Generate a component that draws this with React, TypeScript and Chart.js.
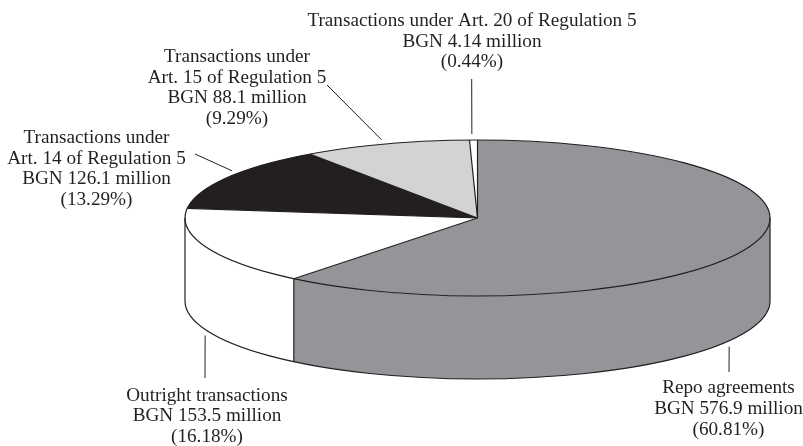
import React, { useEffect, useRef } from 'react';
import { Chart, registerables } from 'chart.js';

Chart.register(...registerables);

// ---- data ----
const CATEGORIES = [
  'Repo agreements',
  'Outright transactions',
  'Transactions under Art. 14 of Regulation 5',
  'Transactions under Art. 15 of Regulation 5',
  'Transactions under Art. 20 of Regulation 5',
];
const VALUES = [576.9, 153.5, 126.1, 88.1, 4.14]; // BGN million
const NAME_LINES = [
  ['Repo agreements'],
  ['Outright transactions'],
  ['Transactions under', 'Art. 14 of Regulation 5'],
  ['Transactions under', 'Art. 15 of Regulation 5'],
  ['Transactions under Art. 20 of Regulation 5'],
];
const COLORS = ['#939598', '#ffffff', '#231f20', '#d1d3d4', '#ffffff'];

// ---- layout (not data) ----
const W = 803;
const H = 446;
const RADIUS = 292.5;
const TILT = 78 / 292.5;
const DEPTH = 83;
const INK = '#231f20';
const FONT = '19.2px "Liberation Serif", "Times New Roman", serif';
const LINE_H = 20.6;
const LABEL_LAYOUT = [
  { x: 728.5, y: 393.3, frac: 0.551, end: [729, 372] },
  { x: 207, y: 400.7, frac: 0.51, end: [205, 378] },
  { x: 96.5, y: 143, frac: 0.58, end: [195, 154] },
  { x: 237, y: 62, frac: 0.5, end: [327, 85] },
  { x: 472, y: 26, frac: 0.3, end: [471.7, 79] },
];

const pie3d = {
  id: 'pie3d',
  beforeDatasetsDraw(chart: any) {
    const ctx = chart.ctx as CanvasRenderingContext2D;
    const arcs = chart.getDatasetMeta(0).data as any[];
    const cx = arcs[0].x, cy = arcs[0].y, rx = arcs[0].outerRadius, ry = rx * TILT;
    ctx.save();
    arcs.forEach((arc, i) => {
      const a = Math.max(arc.startAngle, 0);
      const b = Math.min(arc.endAngle, Math.PI);
      if (b <= a) return;
      ctx.beginPath();
      ctx.ellipse(cx, cy, rx, ry, 0, a, b, false);
      ctx.ellipse(cx, cy + DEPTH, rx, ry, 0, b, a, true);
      ctx.closePath();
      ctx.fillStyle = COLORS[i];
      ctx.fill();
    });
    ctx.restore();
    ctx.save();
    ctx.translate(cx, cy);
    ctx.scale(1, TILT);
    ctx.translate(-cx, -cy);
  },
  afterDatasetsDraw(chart: any) {
    const ctx = chart.ctx as CanvasRenderingContext2D;
    ctx.restore();
    const arcs = chart.getDatasetMeta(0).data as any[];
    const cx = arcs[0].x, cy = arcs[0].y, rx = arcs[0].outerRadius, ry = rx * TILT;
    ctx.save();
    ctx.strokeStyle = INK;
    ctx.lineWidth = 1.2;
    ctx.lineJoin = 'round';
    // top rim
    ctx.beginPath();
    ctx.ellipse(cx, cy, rx, ry, 0, 0, Math.PI * 2);
    ctx.stroke();
    // bottom rim (front half)
    ctx.beginPath();
    ctx.ellipse(cx, cy + DEPTH, rx, ry, 0, 0, Math.PI);
    ctx.stroke();
    // side silhouettes
    ctx.beginPath();
    ctx.moveTo(cx + rx, cy);
    ctx.lineTo(cx + rx, cy + DEPTH);
    ctx.moveTo(cx - rx, cy);
    ctx.lineTo(cx - rx, cy + DEPTH);
    ctx.stroke();
    // radial boundaries and front side seams
    arcs.forEach((arc) => {
      const t = arc.startAngle;
      const px = cx + rx * Math.cos(t);
      const py = cy + ry * Math.sin(t);
      ctx.beginPath();
      ctx.moveTo(cx, cy);
      ctx.lineTo(px, py);
      ctx.stroke();
      const tn = ((t % (2 * Math.PI)) + 2 * Math.PI) % (2 * Math.PI);
      if (tn > 0.001 && tn < Math.PI - 0.001) {
        ctx.beginPath();
        ctx.moveTo(px, py);
        ctx.lineTo(px, py + DEPTH);
        ctx.stroke();
      }
    });
    ctx.restore();
  },
  afterDraw(chart: any) {
    const ctx = chart.ctx as CanvasRenderingContext2D;
    const meta = chart.getDatasetMeta(0);
    const arcs = meta.data as any[];
    const cx = arcs[0].x, cy = arcs[0].y, rx = arcs[0].outerRadius, ry = rx * TILT;
    const total = VALUES.reduce((s, v) => s + v, 0);
    ctx.save();
    ctx.strokeStyle = INK;
    ctx.fillStyle = INK;
    ctx.lineWidth = 1;
    ctx.font = FONT;
    ctx.textAlign = 'center';
    ctx.textBaseline = 'alphabetic';
    arcs.forEach((arc, i) => {
      const L = LABEL_LAYOUT[i];
      const th = arc.startAngle + L.frac * (arc.endAngle - arc.startAngle);
      const front = Math.sin(th) > 0;
      const rxp = cx + rx * Math.cos(th);
      const ryp = cy + ry * Math.sin(th) + (front ? DEPTH : 0);
      const dx = L.end[0] - rxp, dy = L.end[1] - ryp;
      const len = Math.hypot(dx, dy) || 1;
      const gap = 6;
      ctx.beginPath();
      ctx.moveTo(rxp + (dx / len) * gap, ryp + (dy / len) * gap);
      ctx.lineTo(L.end[0], L.end[1]);
      ctx.stroke();
      const lines = [
        ...NAME_LINES[i],
        `BGN ${VALUES[i]} million`,
        `(${((VALUES[i] / total) * 100).toFixed(2)}%)`,
      ];
      lines.forEach((s, k) => ctx.fillText(s, L.x, L.y + k * LINE_H));
    });
    ctx.restore();
  },
};

export default function App() {
  const ref = useRef<HTMLCanvasElement | null>(null);
  useEffect(() => {
    if (!ref.current) return;
    const chart = new Chart(ref.current, {
      type: 'pie',
      data: {
        labels: CATEGORIES,
        datasets: [
          {
            data: VALUES,
            backgroundColor: COLORS,
            borderWidth: 0,
            radius: RADIUS,
            hoverOffset: 0,
            clip: false,
          } as any,
        ],
      },
      options: {
        responsive: false,
        animation: false,
        events: [],
        layout: { padding: { left: 152, right: 0, top: 0, bottom: 10 } },
        plugins: { legend: { display: false }, tooltip: { enabled: false } },
      } as any,
      plugins: [pie3d],
    });
    return () => chart.destroy();
  }, []);
  return (
    <div style={{ position: 'absolute', left: 0, top: 0, width: W, height: H, background: '#fff' }}>
      <canvas ref={ref} width={W} height={H} style={{ display: 'block', width: W, height: H }} />
    </div>
  );
}
